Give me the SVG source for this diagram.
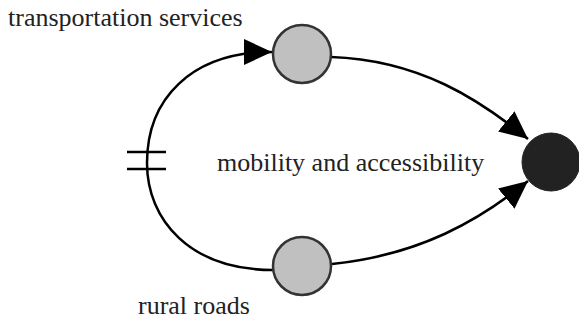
<svg xmlns="http://www.w3.org/2000/svg" width="579" height="320" viewBox="0 0 579 320">
  <defs>
    <marker id="arrow" viewBox="0 0 28 26" refX="28" refY="13" markerWidth="28" markerHeight="26" markerUnits="userSpaceOnUse" orient="auto">
      <path d="M0,0 L28,13 L0,26 z" fill="#000"/>
    </marker>
    <style>
      .edge { fill: none; stroke: #000; stroke-width: 2.5; }
      .node { fill: #c0c0c0; stroke: #333; stroke-width: 2.5; }
      .sink { fill: #222; stroke: #222; stroke-width: 1; }
      text { font-size: 26px; fill: #222; }
    </style>
  </defs>
  <rect width="579" height="320" fill="#fff"/>

  <g id="connectors">
    <path class="edge" d="M273,270 C190,270 147,220 147,163 C147,100 190,52 272,52" marker-end="url(#arrow)"/>
    <line class="edge" x1="127" y1="152" x2="166" y2="152"/>
    <line class="edge" x1="127" y1="169" x2="166" y2="169"/>
    <path class="edge" d="M331,57 C420,60 480,100 528,139" marker-end="url(#arrow)"/>
    <path class="edge" d="M332,264 C420,255 480,220 528,181" marker-end="url(#arrow)"/>
  </g>

  <g id="transportation">
    <circle class="node" cx="302" cy="54" r="29"/>
    <text font-family="Liberation Serif, Times New Roman, serif" x="8" y="26">transportation services</text>
  </g>
  <g id="rural">
    <circle class="node" cx="302" cy="266" r="29"/>
    <text font-family="Liberation Serif, Times New Roman, serif" x="138" y="314">rural roads</text>
  </g>
  <g id="mobility">
    <circle class="sink" cx="551" cy="162" r="29"/>
    <text font-family="Liberation Serif, Times New Roman, serif" x="217" y="171">mobility and accessibility</text>
  </g>
</svg>
